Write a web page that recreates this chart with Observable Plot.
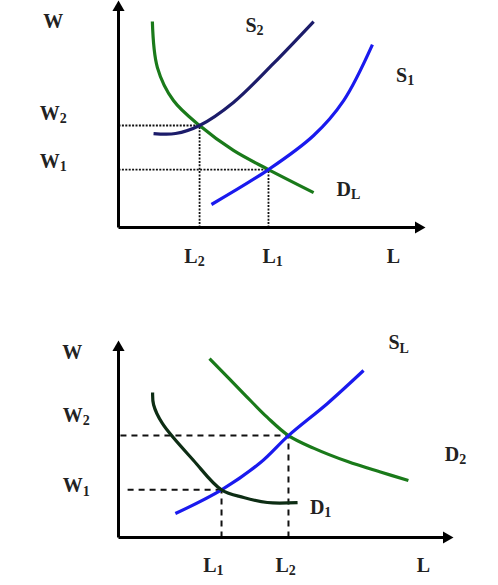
<!DOCTYPE html>
<html>
<head>
<meta charset="utf-8">
<script src="https://cdn.jsdelivr.net/npm/d3@7"></script>
<script src="https://cdn.jsdelivr.net/npm/@observablehq/plot@0.6"></script>
<style>
  html, body { margin: 0; padding: 0; background: #fff; }
  #wrap { width: 498px; }
  svg { display: block; }
</style>
</head>
<body>
<div id="wrap"></div>
<script>
// ---------- Top chart data (L and W in abstract units 0-100) ----------
const topDL = [[11.4,94.9],[13.1,73.7],[18.5,58.5],[27.3,47.0],[38.7,35.5],[50.5,26.7],[65.7,16.1]];
const topS2 = [[11.8,43.3],[19.2,43.3],[27.3,47.0],[38.7,57.6],[52.2,75.6],[65.7,94.9]];
const topS1 = [[31.3,10.6],[50.5,26.7],[65.7,42.4],[75.8,58.5],[85.5,84.3]];
const topEq = [{L: 27.3, W: 47.0}, {L: 50.5, W: 26.7}];
const topLabels = [
  {x: -22, y: 95, t: "W"},
  {x: -22, y: 52.5, t: "W_2"},
  {x: -22, y: 30.5, t: "W_1"},
  {x: 25.6, y: -13.5, t: "L_2"},
  {x: 51.9, y: -13.5, t: "L_1"},
  {x: 92.6, y: -13.5, t: "L"},
  {x: 45.8, y: 93, t: "S_2"},
  {x: 96.5, y: 70, t: "S_1"},
  {x: 77.4, y: 17.5, t: "D_L"}
];

// ---------- Bottom chart data ----------
const botD2 = [[28.0,95.7],[38.5,77.0],[45.8,64.2],[52.3,54.5],[60.0,47.8],[70.5,40.6],[80.6,35.0],[89.2,30.5]];
const botSL = [[17.5,12.8],[31.7,25.5],[43.7,40.1],[52.3,54.5],[64.3,71.7],[75.4,89.3]];
const botD1 = [[10.5,77.5],[10.8,71.0],[13.5,61.0],[23.1,41.2],[31.7,25.5],[38.5,21.4],[45.8,18.7],[55.1,18.7]];
const botEq = [{L: 31.7, W: 25.5, L0: 2.8}, {L: 52.3, W: 54.5, L0: 0.6}];
const botLabels = [
  {x: -14.2, y: 99, t: "W"},
  {x: -13.0, y: 65, t: "W_2"},
  {x: -13.0, y: 27.5, t: "W_1"},
  {x: 29.2, y: -15, t: "L_1"},
  {x: 51.4, y: -15, t: "L_2"},
  {x: 93.8, y: -15, t: "L"},
  {x: 86.2, y: 104, t: "S_L"},
  {x: 103.7, y: 44.5, t: "D_2"},
  {x: 62.2, y: 16, t: "D_1"}
];

const FONT = "'Liberation Serif', 'Times New Roman', serif";

function subscripts(svg) {
  d3.select(svg).selectAll("text").each(function () {
    const s = this.textContent;
    const i = s.indexOf("_");
    if (i < 0) return;
    const main = s.slice(0, i), sub = s.slice(i + 1);
    const el = d3.select(this);
    el.text(null);
    el.append("tspan").text(main);
    el.append("tspan").attr("font-size", "14px").attr("dy", "0.22em").text(sub);
  });
  return svg;
}

function chart({height, marginTop, marginBottom, marginRight, curves, eq, labels, lineDash}) {
  const axisX = [{x1: 0, y1: 0, x2: 100, y2: 0}];
  const axisY = [{x1: 0, y1: 0, x2: 0, y2: 100}];
  const marks = [
    Plot.link(eq, {x1: d => d.L0 ?? 0, y1: "W", x2: "L", y2: "W", stroke: "#111", strokeWidth: lineDash.w, strokeDasharray: lineDash.d}),
    Plot.link(eq, {x1: "L", y1: 0, x2: "L", y2: "W", stroke: "#111", strokeWidth: lineDash.w, strokeDasharray: lineDash.d}),
    Plot.link(axisX, {x1: "x1", y1: "y1", x2: "x2", y2: "y2", stroke: "#000", strokeWidth: 3}),
    Plot.link(axisY, {x1: "x1", y1: "y1", x2: "x2", y2: "y2", stroke: "#000", strokeWidth: 3}),
    Plot.dot([[100, 0]], {x: d => d[0], y: d => d[1], symbol: "triangle", r: 4.5, fill: "#000", rotate: 90, dx: 3}),
    Plot.dot([[0, 100]], {x: d => d[0], y: d => d[1], symbol: "triangle", r: 4.5, fill: "#000", dy: -3})
  ];
  for (const c of curves) {
    marks.push(Plot.line(c.data, {x: d => d[0], y: d => d[1], stroke: c.color, strokeWidth: 3.2, curve: "catmull-rom", strokeLinecap: "butt"}));
  }
  marks.push(Plot.text(labels, {x: "x", y: "y", text: "t", fontSize: 20, fontWeight: "bold", fill: "#222", fontFamily: FONT}));
  const svg = Plot.plot({
    width: 498, height, marginLeft: 118, marginRight, marginTop, marginBottom,
    x: {domain: [0, 100], axis: null},
    y: {domain: [0, 100], axis: null},
    style: {fontFamily: FONT, background: "#fff", overflow: "visible"},
    marks
  });
  return subscripts(svg);
}

const wrap = document.getElementById("wrap");
wrap.appendChild(chart({
  height: 290, marginTop: 10, marginBottom: 63, marginRight: 83,
  curves: [
    {data: topDL, color: "#1a7a1a"},
    {data: topS2, color: "#1c1c6a"},
    {data: topS1, color: "#1a1aee"}
  ],
  eq: topEq, labels: topLabels, lineDash: {w: 1.8, d: "2,1.4"}
}));
wrap.appendChild(chart({
  height: 295, marginTop: 60, marginBottom: 48, marginRight: 55,
  curves: [
    {data: botD2, color: "#1a7a1a"},
    {data: botSL, color: "#1a1aee"},
    {data: botD1, color: "#0d2d14"}
  ],
  eq: botEq, labels: botLabels, lineDash: {w: 2, d: "6,5"}
}));
</script>
</body>
</html>
